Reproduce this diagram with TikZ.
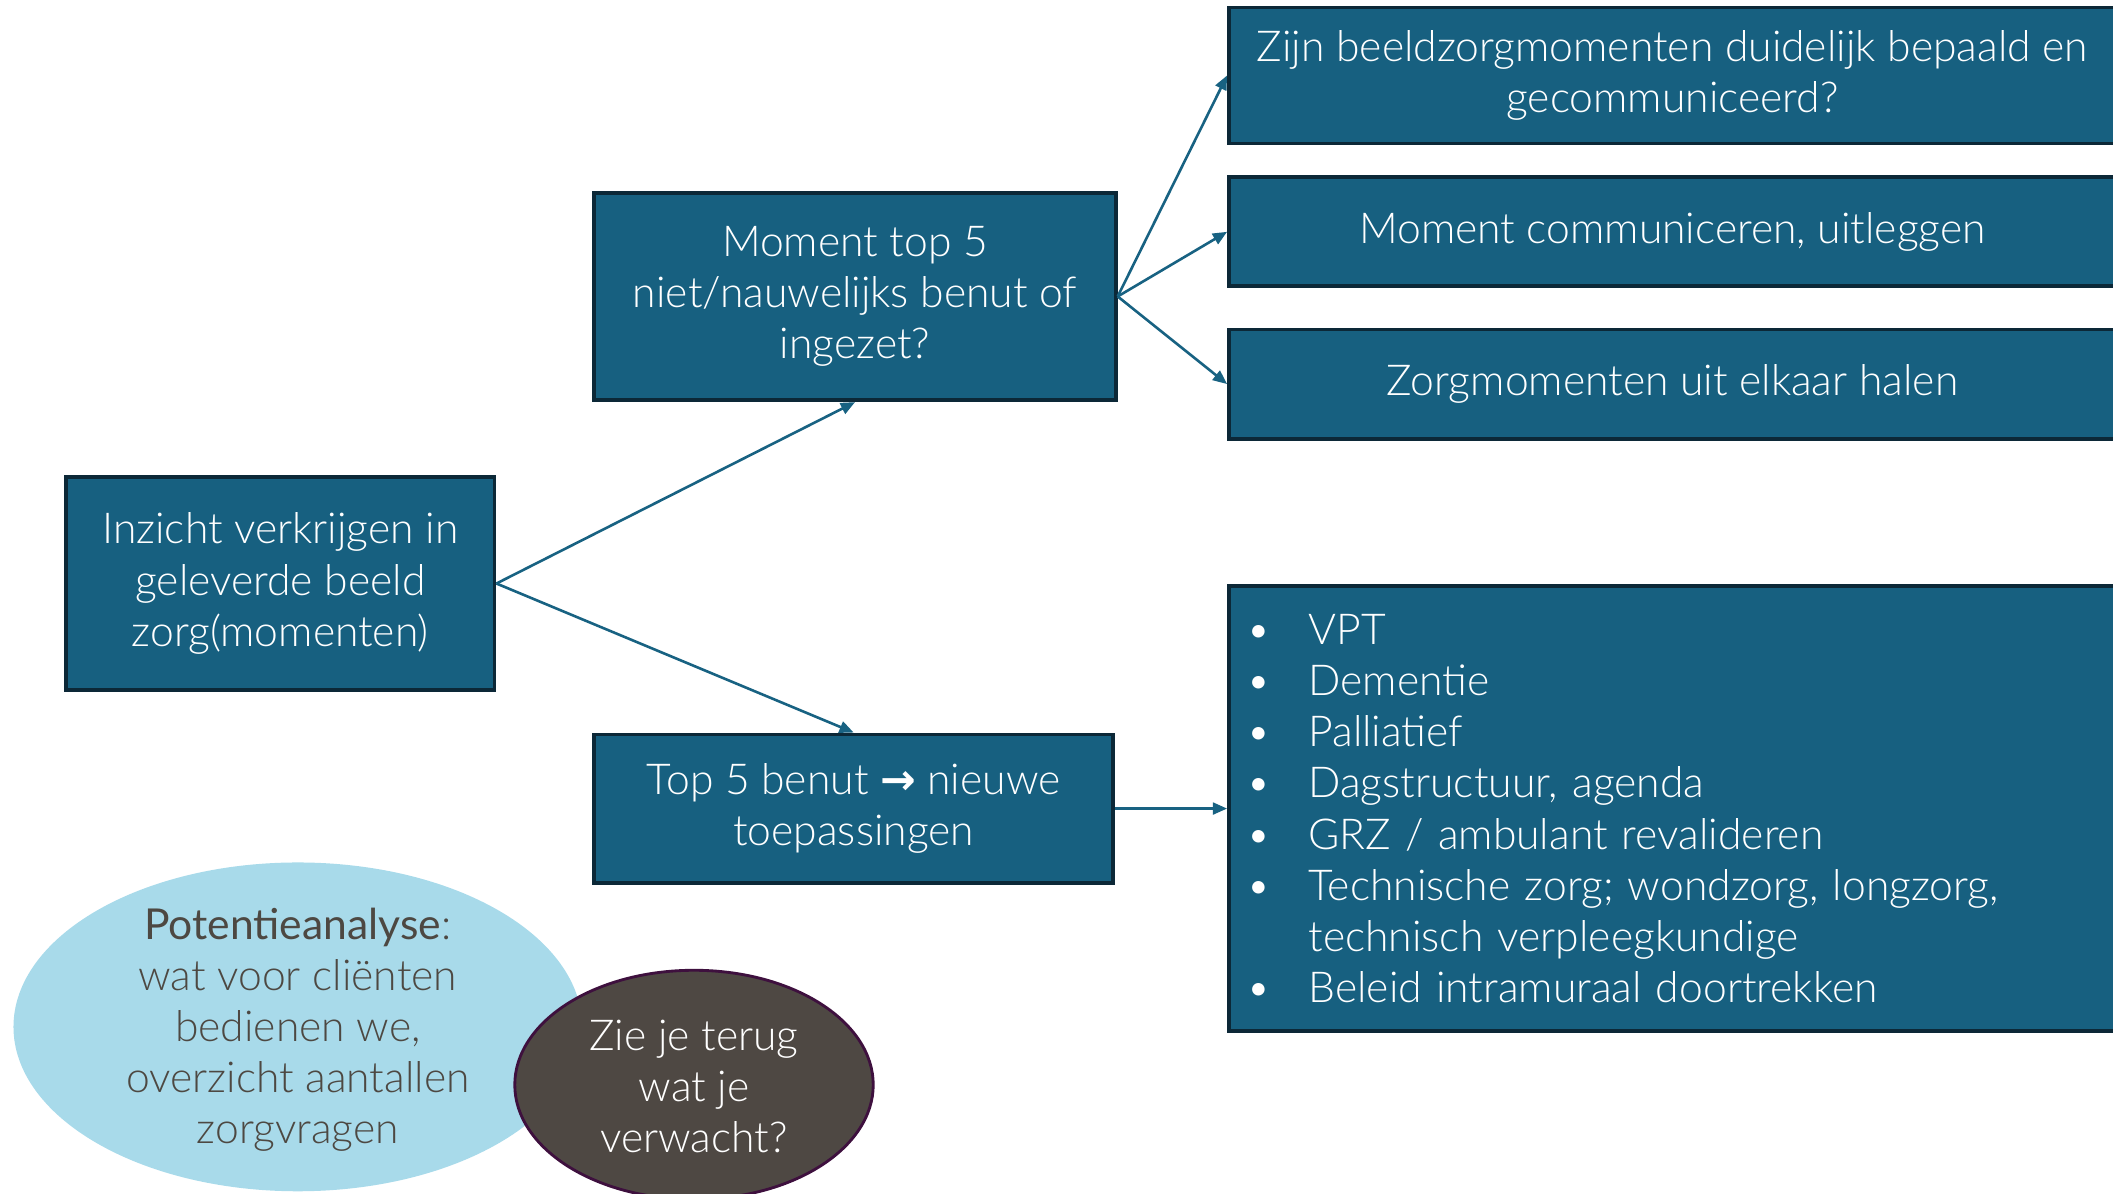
\documentclass[tikz,border=0pt]{standalone}
\usepackage{fontspec}
\setmainfont{Lato Light}[BoldFont=Lato]
\newfontfamily\symfont{DejaVu Sans}
\usetikzlibrary{arrows.meta,positioning,shapes.geometric}

\definecolor{boxfill}{RGB}{23,96,128}
\definecolor{boxline}{RGB}{12,40,55}
\definecolor{linkcol}{RGB}{24,98,130}
\definecolor{lightblue}{RGB}{168,218,234}
\definecolor{darkfill}{RGB}{78,72,67}
\definecolor{darkline}{RGB}{62,16,62}
\definecolor{textgray}{RGB}{77,72,66}

\newlength\pxu
\setlength\pxu{0.02cm}
\newcommand\bul{\hspace*{-7\pxu}\makebox[46\pxu][l]{\textbullet}}

\begin{document}
\begin{tikzpicture}[x=0.02cm,y=-0.02cm,font=\fontsize{18}{21.6}\selectfont,
  box/.style={draw=boxline,fill=boxfill,line width=1.6pt,text=white,align=center,inner sep=0pt},
  bubble/.style={ellipse,inner sep=0pt},
  link/.style={draw=linkcol,line width=1.1pt,-{Triangle[length=6pt,width=5pt]}}]
  \useasboundingbox (0,0) rectangle (1568,886);

  \node[box,minimum width=318\pxu,minimum height=158\pxu] (inzicht) at (208,433)
    {Inzicht verkrijgen in\\geleverde beeld\\zorg(momenten)};
  \node[box,minimum width=387\pxu,minimum height=154\pxu] (top5niet) at (634.5,220)
    {Moment top 5\\niet/nauwelijks benut of\\ingezet?};
  \node[box,minimum width=385\pxu,minimum height=110\pxu] (top5benut) at (633.5,600)
    {Top 5 benut {\symfont\bfseries →} nieuwe\\toepassingen};

  \node[box,minimum width=658\pxu,minimum height=101\pxu] (bepaald) at (1241,56)
    {Zijn beeldzorgmomenten duidelijk bepaald en\\gecommuniceerd?};
  \node[box,minimum width=658\pxu,minimum height=81\pxu] (communiceren) at (1241,172)
    {Moment communiceren, uitleggen};
  \node[box,minimum width=658\pxu,minimum height=81\pxu] (halen) at (1241,285)
    {Zorgmomenten uit elkaar halen};
  \node[box,align=left,text width=618\pxu,inner xsep=20\pxu,minimum height=330\pxu] (lijst) at (1241,600)
    {\bul VPT\\
     \bul Dementie\\
     \bul Palliatief\\
     \bul Dagstructuur, agenda\\
     \bul GRZ / ambulant revalideren\\
     \bul Technische zorg; wondzorg, longzorg,\\
     \hspace*{39\pxu}technisch verpleegkundige\\
     \bul Beleid intramuraal doortrekken};

  % bellen onderaan
  \node[bubble,fill=lightblue,minimum width=422\pxu,minimum height=244\pxu] (potentie) at (221,762) {};
  \node[text=textgray,align=center] (potentietekst) at (221,764)
    {\textbf{Potentieanalyse}:\\wat voor cliënten\\bedienen we,\\overzicht aantallen\\zorgvragen};
  \node[bubble,fill=darkfill,draw=darkline,line width=1.2pt,minimum width=266\pxu,minimum height=170\pxu] (verwacht) at (515,805) {};
  \node[text=white,align=center] (verwachttekst) at (515,806) {Zie je terug\\wat je\\verwacht?};

  \draw[link] (inzicht.east) -- (top5niet.south);
  \draw[link] (inzicht.east) -- (top5benut.north);
  \draw[link] (top5niet.east) -- (bepaald.west);
  \draw[link] (top5niet.east) -- (communiceren.west);
  \draw[link] (top5niet.east) -- (halen.west);
  \draw[link] (top5benut.east) -- (lijst.west);
\end{tikzpicture}
\end{document}
